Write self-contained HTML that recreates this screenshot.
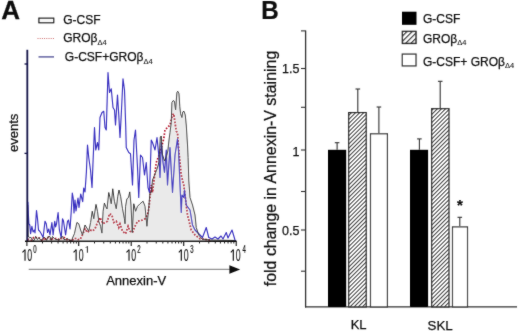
<!DOCTYPE html>
<html><head><meta charset="utf-8"><style>
html,body{margin:0;padding:0;background:#fff;}
body{width:520px;height:331px;overflow:hidden;}
svg{display:block;font-family:"Liberation Sans", sans-serif;}
text{fill:#111;stroke:#111;stroke-width:0.25px;}
text,tspan{filter:grayscale(1);}
tspan{stroke-width:0.1px;}
</style></head><body>
<svg width="520" height="331" viewBox="0 0 520 331">
<defs><filter id="bl" x="0" y="0" width="520" height="331" filterUnits="userSpaceOnUse"><feConvolveMatrix order="3" kernelMatrix="0.5 1 0.5 1 14 1 0.5 1 0.5" divisor="20" edgeMode="duplicate"/></filter><pattern id="hatch" patternUnits="userSpaceOnUse" width="2.9" height="2.9" patternTransform="rotate(45)">
<rect width="2.9" height="2.9" fill="#fff"/><rect x="0" y="0" width="1.0" height="2.9" fill="#222"/></pattern>
<pattern id="hatchL" patternUnits="userSpaceOnUse" x="402" y="31" width="3.7" height="3.7" patternTransform="rotate(45)">
<rect width="3.7" height="3.7" fill="#fff"/><rect x="0" y="0" width="1.15" height="3.7" fill="#1a1a1a"/></pattern></defs>
<g filter="url(#bl)">
<text transform="translate(1.2,18.6) scale(1.04,1)" font-size="25" font-weight="bold">A</text>
<rect x="38.9" y="18.2" width="14.8" height="4.5" fill="#f6f6f6" stroke="#111" stroke-width="1.2"/>
<text x="63.2" y="24" font-size="12">G-CSF</text>
<line x1="37.5" y1="38.5" x2="55" y2="38.5" stroke="#c86060" stroke-width="0.9" stroke-dasharray="1,1.2"/>
<text x="63.2" y="42.3" font-size="12">GROβ<tspan font-size="7.5" dy="2.5">Δ4</tspan></text>
<line x1="38.5" y1="56.9" x2="54" y2="56.9" stroke="#5a5a9c" stroke-width="1.4"/>
<text x="64.8" y="61.3" font-size="12">G-CSF+GROβ<tspan font-size="7.5" dy="2.5">Δ4</tspan></text>
<text transform="translate(18.2,152) rotate(-90)" font-size="13">events</text>
<polygon points="27.30,241.00 27.60,205.00 28.20,236.00 29.50,237.50 31.17,237.50 32.67,240.30 34.25,240.30 35.50,236.50 37.43,239.50 38.84,237.50 40.19,239.50 41.82,240.30 43.40,237.50 44.79,237.50 46.68,240.30 48.20,236.50 49.93,236.50 51.26,240.30 52.49,236.50 54.35,238.50 55.93,239.50 57.70,239.50 59.22,240.30 60.77,237.50 62.68,236.50 63.91,239.50 65.28,239.50 67.10,238.50 68.64,239.50 70.30,240.30 71.97,240.30 72.50,238.00 74.40,233.75 76.90,222.50 78.75,223.75 80.60,230.00 82.50,235.00 85.00,225.00 87.50,229.00 88.75,231.25 90.60,222.50 92.25,211.25 93.75,218.75 96.00,204.40 97.50,211.25 98.75,221.25 100.60,226.25 101.90,233.10 103.10,211.25 104.40,203.10 105.60,206.25 107.00,209.00 108.75,192.50 110.00,197.50 111.25,203.75 112.75,188.75 114.40,201.25 116.25,208.75 117.75,196.25 119.00,190.00 120.60,196.25 122.50,208.75 124.40,218.75 125.00,223.75 125.60,206.25 126.90,198.75 128.50,197.50 129.75,191.90 131.00,205.00 132.25,232.50 133.75,203.75 135.60,211.25 137.50,206.25 140.00,203.75 143.10,201.25 145.00,206.25 146.90,226.25 148.75,207.50 150.00,192.50 151.25,192.50 152.50,180.00 155.00,174.00 157.00,169.00 159.00,162.00 160.30,137.00 161.30,136.00 162.30,154.00 164.50,161.00 166.30,157.00 167.80,151.00 169.00,140.00 170.00,132.50 171.25,122.50 171.90,102.50 173.10,100.60 174.40,101.25 175.60,110.00 176.90,92.50 177.75,91.25 179.00,93.75 179.75,106.25 180.60,113.75 181.90,117.50 182.75,111.90 184.00,111.25 185.25,115.00 186.25,125.00 187.50,145.00 188.10,157.50 188.75,180.00 190.00,197.50 192.50,205.00 195.00,215.00 196.25,227.50 198.75,235.00 202.00,239.00 210.00,240.00 236.00,240.50 236.00,241.30 27.30,241.30" fill="#eaeaea" stroke="none"/>
<polyline points="27.50,240.00 29.00,239.50 31.45,240.30 33.60,237.50 35.92,237.50 37.79,237.50 40.20,238.50 41.73,240.30 43.65,238.50 45.24,240.30 46.80,237.50 49.25,237.50 51.33,240.30 52.88,238.50 54.42,238.50 56.21,238.50 58.25,239.50 60.31,238.50 61.92,238.50 63.79,237.50 65.85,238.50 67.85,240.30 70.13,240.30 72.21,240.30 74.07,238.50 76.37,238.50 77.95,239.50 79.97,239.50 82.00,236.00 85.00,228.75 87.50,232.50 90.00,230.00 92.50,231.00 95.00,228.75 97.50,222.50 100.00,217.50 103.10,223.75 105.00,222.50 107.50,221.25 109.40,213.75 111.90,215.00 113.75,222.50 116.25,221.25 118.75,227.50 120.00,224.00 122.50,231.25 125.60,233.75 128.10,226.25 130.00,231.25 132.50,232.50 135.00,226.25 137.50,221.25 140.00,220.60 142.50,220.00 145.00,218.75 147.50,215.00 149.00,207.50 151.25,185.00 152.50,192.50 155.00,172.50 156.25,162.50 160.00,152.50 163.75,138.75 165.00,130.00 167.50,127.50 170.00,125.00 171.25,120.00 172.50,115.00 173.75,113.75 175.00,122.50 176.25,131.25 177.50,132.50 178.75,150.00 181.25,175.00 183.75,185.00 185.00,195.00 187.50,215.00 191.25,230.00 195.00,235.00 200.00,238.75 210.00,240.00" fill="none" stroke="#b3122a" stroke-width="1.7" stroke-dasharray="1.6,1.6"/>
<polyline points="27.50,241.00 27.90,202.00 28.40,215.00 28.90,224.00 29.80,225.00 30.60,233.75 31.90,226.25 33.10,231.90 34.40,230.00 35.00,233.00 36.50,210.60 37.50,218.75 38.50,230.00 39.75,231.25 41.25,233.75 43.10,237.50 45.00,221.25 46.25,223.75 47.50,232.50 48.75,229.00 50.00,235.00 51.90,222.50 53.10,235.00 54.75,221.25 55.60,226.90 56.50,224.00 58.10,212.50 59.40,230.00 61.25,237.50 62.50,218.75 63.50,221.00 65.60,235.00 67.50,221.25 68.50,220.00 70.00,229.00 71.20,212.00 72.30,193.00 73.20,198.00 74.00,213.00 75.00,200.00 76.00,211.00 78.00,198.00 79.00,207.50 80.70,194.00 82.70,201.60 83.70,188.00 85.00,192.00 86.40,172.00 87.50,145.00 88.75,157.50 90.50,170.00 92.00,187.50 93.00,162.50 94.50,127.50 95.75,150.00 97.50,142.50 98.75,150.00 100.00,117.50 102.00,112.50 103.75,111.25 105.00,127.50 106.25,130.00 108.00,72.50 109.50,92.50 111.25,88.75 113.00,107.50 114.50,110.00 115.50,125.00 117.50,95.00 118.75,115.00 120.00,137.50 121.25,115.00 123.00,78.75 124.50,90.00 125.75,127.50 126.25,147.50 128.75,152.50 130.50,153.75 132.50,185.00 134.00,140.00 135.50,130.00 137.50,167.50 138.75,197.50 140.50,155.00 142.50,157.50 144.50,175.00 146.25,162.50 148.00,187.50 149.50,192.50 151.25,140.00 152.50,142.50 155.00,150.00 157.00,137.50 158.75,155.00 160.00,177.50 161.25,142.50 163.00,162.50 164.50,172.50 166.25,150.00 167.50,185.00 170.00,147.50 172.50,192.50 175.00,155.00 177.50,138.75 178.50,150.00 180.00,185.00 181.25,212.50 182.00,195.00 183.75,197.50 184.50,190.00 186.25,205.00 190.00,210.00 192.50,225.00 195.00,230.00 200.00,235.00 202.50,237.50 206.25,227.50 208.75,237.50 212.00,239.00 215.00,237.00 218.00,239.00 221.00,236.00 223.00,239.00 226.25,232.50 228.00,238.00 232.00,230.00 235.00,240.00" fill="none" stroke="#3a32c0" stroke-width="1.15" stroke-linejoin="round"/>
<polyline points="27.30,241.00 27.60,205.00 28.20,236.00 29.50,237.50 31.17,237.50 32.67,240.30 34.25,240.30 35.50,236.50 37.43,239.50 38.84,237.50 40.19,239.50 41.82,240.30 43.40,237.50 44.79,237.50 46.68,240.30 48.20,236.50 49.93,236.50 51.26,240.30 52.49,236.50 54.35,238.50 55.93,239.50 57.70,239.50 59.22,240.30 60.77,237.50 62.68,236.50 63.91,239.50 65.28,239.50 67.10,238.50 68.64,239.50 70.30,240.30 71.97,240.30 72.50,238.00 74.40,233.75 76.90,222.50 78.75,223.75 80.60,230.00 82.50,235.00 85.00,225.00 87.50,229.00 88.75,231.25 90.60,222.50 92.25,211.25 93.75,218.75 96.00,204.40 97.50,211.25 98.75,221.25 100.60,226.25 101.90,233.10 103.10,211.25 104.40,203.10 105.60,206.25 107.00,209.00 108.75,192.50 110.00,197.50 111.25,203.75 112.75,188.75 114.40,201.25 116.25,208.75 117.75,196.25 119.00,190.00 120.60,196.25 122.50,208.75 124.40,218.75 125.00,223.75 125.60,206.25 126.90,198.75 128.50,197.50 129.75,191.90 131.00,205.00 132.25,232.50 133.75,203.75 135.60,211.25 137.50,206.25 140.00,203.75 143.10,201.25 145.00,206.25 146.90,226.25 148.75,207.50 150.00,192.50 151.25,192.50 152.50,180.00 155.00,174.00 157.00,169.00 159.00,162.00 160.30,137.00 161.30,136.00 162.30,154.00 164.50,161.00 166.30,157.00 167.80,151.00 169.00,140.00 170.00,132.50 171.25,122.50 171.90,102.50 173.10,100.60 174.40,101.25 175.60,110.00 176.90,92.50 177.75,91.25 179.00,93.75 179.75,106.25 180.60,113.75 181.90,117.50 182.75,111.90 184.00,111.25 185.25,115.00 186.25,125.00 187.50,145.00 188.10,157.50 188.75,180.00 190.00,197.50 192.50,205.00 195.00,215.00 196.25,227.50 198.75,235.00 202.00,239.00 210.00,240.00 236.00,240.50" fill="none" stroke="#333" stroke-width="0.95" stroke-linejoin="round"/>
<line x1="27.3" y1="49.8" x2="27.3" y2="241.5" stroke="#12124a" stroke-width="1.8"/>
<line x1="24.5" y1="64" x2="27.3" y2="64" stroke="#14144a" stroke-width="1.3"/>
<line x1="24.5" y1="153.4" x2="27.3" y2="153.4" stroke="#14144a" stroke-width="1.3"/>
<line x1="25" y1="241.3" x2="236.6" y2="241.3" stroke="#111" stroke-width="1.4"/>
<line x1="26.9" y1="241.3" x2="26.9" y2="246" stroke="#111" stroke-width="1.1"/>
<line x1="78.7" y1="241.3" x2="78.7" y2="246" stroke="#111" stroke-width="1.1"/>
<line x1="131.2" y1="241.3" x2="131.2" y2="246" stroke="#111" stroke-width="1.1"/>
<line x1="183.7" y1="241.3" x2="183.7" y2="246" stroke="#111" stroke-width="1.1"/>
<line x1="236.2" y1="241.3" x2="236.2" y2="246" stroke="#111" stroke-width="1.1"/>
<line x1="42.49" y1="241.3" x2="42.49" y2="243.5" stroke="#111" stroke-width="0.9"/>
<line x1="51.61" y1="241.3" x2="51.61" y2="243.5" stroke="#111" stroke-width="0.9"/>
<line x1="58.09" y1="241.3" x2="58.09" y2="243.5" stroke="#111" stroke-width="0.9"/>
<line x1="63.11" y1="241.3" x2="63.11" y2="243.5" stroke="#111" stroke-width="0.9"/>
<line x1="67.21" y1="241.3" x2="67.21" y2="243.5" stroke="#111" stroke-width="0.9"/>
<line x1="70.68" y1="241.3" x2="70.68" y2="243.5" stroke="#111" stroke-width="0.9"/>
<line x1="73.68" y1="241.3" x2="73.68" y2="243.5" stroke="#111" stroke-width="0.9"/>
<line x1="76.33" y1="241.3" x2="76.33" y2="243.5" stroke="#111" stroke-width="0.9"/>
<line x1="94.50" y1="241.3" x2="94.50" y2="243.5" stroke="#111" stroke-width="0.9"/>
<line x1="103.75" y1="241.3" x2="103.75" y2="243.5" stroke="#111" stroke-width="0.9"/>
<line x1="110.31" y1="241.3" x2="110.31" y2="243.5" stroke="#111" stroke-width="0.9"/>
<line x1="115.40" y1="241.3" x2="115.40" y2="243.5" stroke="#111" stroke-width="0.9"/>
<line x1="119.55" y1="241.3" x2="119.55" y2="243.5" stroke="#111" stroke-width="0.9"/>
<line x1="123.07" y1="241.3" x2="123.07" y2="243.5" stroke="#111" stroke-width="0.9"/>
<line x1="126.11" y1="241.3" x2="126.11" y2="243.5" stroke="#111" stroke-width="0.9"/>
<line x1="128.80" y1="241.3" x2="128.80" y2="243.5" stroke="#111" stroke-width="0.9"/>
<line x1="147.00" y1="241.3" x2="147.00" y2="243.5" stroke="#111" stroke-width="0.9"/>
<line x1="156.25" y1="241.3" x2="156.25" y2="243.5" stroke="#111" stroke-width="0.9"/>
<line x1="162.81" y1="241.3" x2="162.81" y2="243.5" stroke="#111" stroke-width="0.9"/>
<line x1="167.90" y1="241.3" x2="167.90" y2="243.5" stroke="#111" stroke-width="0.9"/>
<line x1="172.05" y1="241.3" x2="172.05" y2="243.5" stroke="#111" stroke-width="0.9"/>
<line x1="175.57" y1="241.3" x2="175.57" y2="243.5" stroke="#111" stroke-width="0.9"/>
<line x1="178.61" y1="241.3" x2="178.61" y2="243.5" stroke="#111" stroke-width="0.9"/>
<line x1="181.30" y1="241.3" x2="181.30" y2="243.5" stroke="#111" stroke-width="0.9"/>
<line x1="199.50" y1="241.3" x2="199.50" y2="243.5" stroke="#111" stroke-width="0.9"/>
<line x1="208.75" y1="241.3" x2="208.75" y2="243.5" stroke="#111" stroke-width="0.9"/>
<line x1="215.31" y1="241.3" x2="215.31" y2="243.5" stroke="#111" stroke-width="0.9"/>
<line x1="220.40" y1="241.3" x2="220.40" y2="243.5" stroke="#111" stroke-width="0.9"/>
<line x1="224.55" y1="241.3" x2="224.55" y2="243.5" stroke="#111" stroke-width="0.9"/>
<line x1="228.07" y1="241.3" x2="228.07" y2="243.5" stroke="#111" stroke-width="0.9"/>
<line x1="231.11" y1="241.3" x2="231.11" y2="243.5" stroke="#111" stroke-width="0.9"/>
<line x1="233.80" y1="241.3" x2="233.80" y2="243.5" stroke="#111" stroke-width="0.9"/>
<path d="M24.45,249.4 h1.15 v11.4 h-1.15 z" fill="#111"/>
<line x1="24.90" y1="249.9" x2="22.50" y2="252.4" stroke="#111" stroke-width="1.05"/>
<g transform="translate(29.80,260.8) scale(0.55,1)"><text x="0" y="0" font-size="16" text-anchor="middle" style="stroke-width:0.12px">0</text></g>
<g transform="translate(34.80,252.8) scale(0.6,1)"><text x="0" y="0" font-size="10" text-anchor="middle" style="stroke-width:0.2px">0</text></g>
<path d="M75.55,249.4 h1.15 v11.4 h-1.15 z" fill="#111"/>
<line x1="76.00" y1="249.9" x2="73.60" y2="252.4" stroke="#111" stroke-width="1.05"/>
<g transform="translate(81.20,260.8) scale(0.55,1)"><text x="0" y="0" font-size="16" text-anchor="middle" style="stroke-width:0.12px">0</text></g>
<path d="M86.90,246.2 h0.9 v6.6 h-0.9 z" fill="#111"/>
<line x1="87.00" y1="246.5" x2="85.70" y2="247.9" stroke="#111" stroke-width="0.7"/>
<path d="M128.45,249.4 h1.15 v11.4 h-1.15 z" fill="#111"/>
<line x1="128.90" y1="249.9" x2="126.50" y2="252.4" stroke="#111" stroke-width="1.05"/>
<g transform="translate(133.70,260.8) scale(0.55,1)"><text x="0" y="0" font-size="16" text-anchor="middle" style="stroke-width:0.12px">0</text></g>
<g transform="translate(138.80,252.8) scale(0.6,1)"><text x="0" y="0" font-size="10" text-anchor="middle" style="stroke-width:0.2px">2</text></g>
<path d="M180.75,249.4 h1.15 v11.4 h-1.15 z" fill="#111"/>
<line x1="181.20" y1="249.9" x2="178.80" y2="252.4" stroke="#111" stroke-width="1.05"/>
<g transform="translate(186.20,260.8) scale(0.55,1)"><text x="0" y="0" font-size="16" text-anchor="middle" style="stroke-width:0.12px">0</text></g>
<g transform="translate(191.80,252.8) scale(0.6,1)"><text x="0" y="0" font-size="10" text-anchor="middle" style="stroke-width:0.2px">3</text></g>
<path d="M232.75,249.4 h1.15 v11.4 h-1.15 z" fill="#111"/>
<line x1="233.20" y1="249.9" x2="230.80" y2="252.4" stroke="#111" stroke-width="1.05"/>
<g transform="translate(238.30,260.8) scale(0.55,1)"><text x="0" y="0" font-size="16" text-anchor="middle" style="stroke-width:0.12px">0</text></g>
<g transform="translate(244.20,252.8) scale(0.6,1)"><text x="0" y="0" font-size="10" text-anchor="middle" style="stroke-width:0.2px">4</text></g>
<line x1="28.7" y1="269.3" x2="232" y2="269.3" stroke="#777" stroke-width="1"/>
<polygon points="229.4,265.3 240.2,269.4 229.4,273.7" fill="#111"/>
<text x="106.2" y="285" font-size="13">Annexin-V</text>
<text transform="translate(261.3,18.5) scale(0.97,1)" font-size="25" font-weight="bold">B</text>
<rect x="402" y="11.7" width="14.5" height="13.1" fill="#000"/>
<text x="423" y="22.8" font-size="12">G-CSF</text>
<rect x="402.4" y="31.4" width="13.6" height="12" fill="url(#hatchL)" stroke="#222" stroke-width="1.4"/>
<text x="423" y="42.6" font-size="12">GROβ<tspan font-size="7.5" dy="2.5">Δ4</tspan></text>
<rect x="402.3" y="54.1" width="13.7" height="11.8" fill="#fff" stroke="#333" stroke-width="1.3"/>
<text x="423" y="65.5" font-size="12">G-CSF+ GROβ<tspan font-size="7.5" dy="2.5">Δ4</tspan></text>
<text transform="translate(275.8,286.2) rotate(-90)" font-size="15.93">fold change in Annexin-V staining</text>
<line x1="305.6" y1="30.6" x2="305.6" y2="307.6" stroke="#333" stroke-width="1.3"/>
<line x1="301" y1="30.9" x2="305.6" y2="30.9" stroke="#333" stroke-width="1.1"/>
<line x1="301" y1="68.5" x2="305.6" y2="68.5" stroke="#333" stroke-width="1.1"/>
<line x1="301" y1="107.3" x2="305.6" y2="107.3" stroke="#333" stroke-width="1.1"/>
<line x1="301" y1="150" x2="305.6" y2="150" stroke="#333" stroke-width="1.1"/>
<line x1="301" y1="191.5" x2="305.6" y2="191.5" stroke="#333" stroke-width="1.1"/>
<line x1="301" y1="230" x2="305.6" y2="230" stroke="#333" stroke-width="1.1"/>
<line x1="301" y1="271.2" x2="305.6" y2="271.2" stroke="#333" stroke-width="1.1"/>
<text x="299.4" y="72.7" font-size="12.5" text-anchor="end">1.5</text>
<text x="299.4" y="155.7" font-size="12.5" text-anchor="end">1</text>
<text x="299.4" y="234.9" font-size="12.5" text-anchor="end">0.5</text>
<line x1="305" y1="306.9" x2="517" y2="306.9" stroke="#333" stroke-width="1.3"/>
<line x1="337.1" y1="142.7" x2="337.1" y2="149.8" stroke="#333" stroke-width="1.1"/>
<line x1="334.8" y1="142.7" x2="339.40000000000003" y2="142.7" stroke="#333" stroke-width="1.1"/>
<rect x="328" y="149.8" width="18.19999999999999" height="157.09999999999997" fill="#000"/>
<line x1="357.8" y1="89" x2="357.8" y2="112" stroke="#333" stroke-width="1.1"/>
<line x1="355.5" y1="89" x2="360.1" y2="89" stroke="#333" stroke-width="1.1"/>
<rect x="348.70000000000005" y="112.6" width="17.49999999999999" height="194.29999999999998" fill="url(#hatch)" stroke="#222" stroke-width="1.2"/>
<line x1="378.9" y1="107" x2="378.9" y2="133.2" stroke="#333" stroke-width="1.1"/>
<line x1="376.59999999999997" y1="107" x2="381.2" y2="107" stroke="#333" stroke-width="1.1"/>
<rect x="370.5" y="133.79999999999998" width="16.900000000000023" height="173.1" fill="#fff" stroke="#333" stroke-width="1.2"/>
<line x1="419.4" y1="138.9" x2="419.4" y2="149.8" stroke="#333" stroke-width="1.1"/>
<line x1="417.09999999999997" y1="138.9" x2="421.7" y2="138.9" stroke="#333" stroke-width="1.1"/>
<rect x="410" y="149.8" width="18.100000000000023" height="157.09999999999997" fill="#000"/>
<line x1="440.2" y1="81.3" x2="440.2" y2="108.1" stroke="#333" stroke-width="1.1"/>
<line x1="437.9" y1="81.3" x2="442.5" y2="81.3" stroke="#333" stroke-width="1.1"/>
<rect x="431.70000000000005" y="108.69999999999999" width="17.3" height="198.2" fill="url(#hatch)" stroke="#222" stroke-width="1.2"/>
<line x1="459.8" y1="217.3" x2="459.8" y2="226.3" stroke="#333" stroke-width="1.1"/>
<line x1="457.5" y1="217.3" x2="462.1" y2="217.3" stroke="#333" stroke-width="1.1"/>
<rect x="452.5" y="226.9" width="15.000000000000046" height="79.99999999999997" fill="#fff" stroke="#333" stroke-width="1.2"/>
<text x="460" y="210.3" font-size="15" font-weight="bold" text-anchor="middle">*</text>
<text x="350.7" y="329.3" font-size="13">KL</text>
<text x="427.6" y="329.6" font-size="13.3">SKL</text>
</g>
</svg>
</body></html>
